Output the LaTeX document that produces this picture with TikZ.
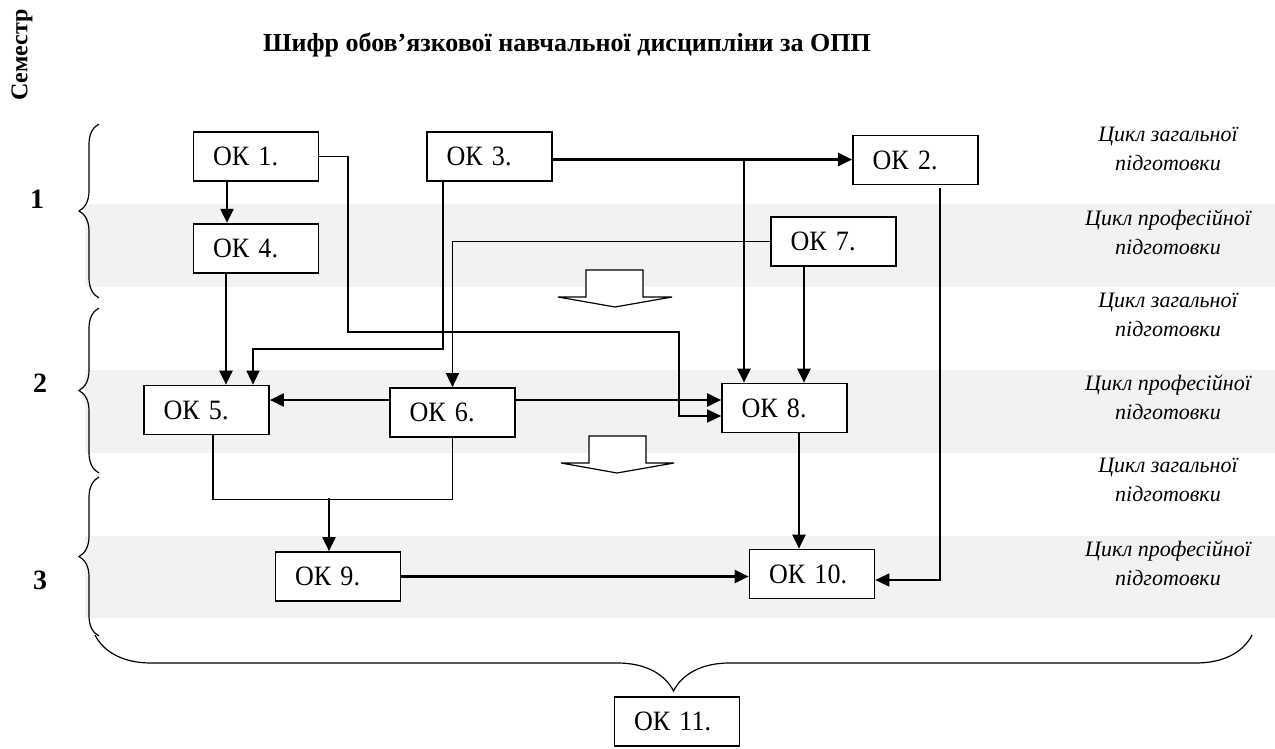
\documentclass[tikz,border=0pt]{standalone}
\usepackage{fontspec}
\setmainfont{Liberation Serif}[ItalicFont={Liberation Serif Italic}, BoldFont={Liberation Serif Bold}]
\newfontfamily\okfont{Liberation Serif}[FakeStretch=0.93]
\usetikzlibrary{arrows.meta,decorations.pathreplacing,positioning}

\definecolor{bandgray}{RGB}{242,242,242}

\begin{document}
\begin{tikzpicture}[
    x=0.5pt, y=-0.5pt,
    ok/.style={rectangle, draw, line width=0.85pt, fill=white, minimum height=24.5pt, text width=43pt, inner xsep=9.75pt, inner ysep=0pt, align=left, font=\okfont\fontsize{14}{16}\selectfont},
    cyclelabel/.style={font=\itshape\fontsize{11}{14.5}\selectfont, align=center},
    sem/.style={font=\bfseries\fontsize{14}{16}\selectfont},
    arrow/.style={-{Triangle[length=7pt,width=6.5pt]}, line width=1.1pt},
    thinarrow/.style={arrow, line width=0.7pt},
    link/.style={line width=0.7pt},
    lbrace/.style={decorate, decoration={brace, amplitude=10pt}, line width=0.6pt},
    blockarrow/.style={draw, fill=white, line width=0.6pt}
]
\useasboundingbox (0,0) rectangle (1275,749);

% Bands
\fill[bandgray] (85,204) rectangle (1275,287);
\fill[bandgray] (85,370) rectangle (1275,453);
\fill[bandgray] (85,536) rectangle (1275,618);

% Headings
\node[font=\bfseries\fontsize{13}{15}\selectfont, anchor=base] (title) at (567,52) {Шифр обов’язкової навчальної дисципліни за ОПП};
\node[font=\bfseries\fontsize{12}{14}\selectfont, rotate=90] (semestr) at (22,55) {Семестр};

% Semesters
\node[sem] (s1) at (37,199) {1};
\node[sem] (s2) at (40,383) {2};
\node[sem] (s3) at (40,580) {3};
\draw[lbrace] (99,298) -- (99,124);
\draw[lbrace] (99,473) -- (99,308);
\draw[lbrace] (99,636) -- (99,477);

% Cycles
\node[cyclelabel] (c1) at (1168,149) {Цикл загальної\\підготовки};
\node[cyclelabel] (c2) at (1168,232) {Цикл професійної\\підготовки};
\node[cyclelabel] (c3) at (1168,315) {Цикл загальної\\підготовки};
\node[cyclelabel] (c4) at (1168,397) {Цикл професійної\\підготовки};
\node[cyclelabel] (c5) at (1168,480) {Цикл загальної\\підготовки};
\node[cyclelabel] (c6) at (1168,563) {Цикл професійної\\підготовки};

% Block arrows
\draw[blockarrow] (586,270) -- (643,270) -- (643,297) -- (672,297) -- (615,307) -- (558,297) -- (586,297) -- cycle;
\draw[blockarrow] (589,436) -- (646,436) -- (646,463) -- (674,463) -- (617,473) -- (561,463) -- (589,463) -- cycle;

% Disciplines
\node[ok] (ok1) at (256,156.5) {ОК 1.};
\node[ok] (ok3) at (489.5,156.5) {ОК 3.};
\node[ok] (ok2) at (915.5,160) {ОК 2.};
\node[ok, below=20.5pt of ok1] (ok4) {ОК 4.};
\node[ok] (ok7) at (833.5,241.5) {ОК 7.};
\node[ok] (ok5) at (206.5,410) {ОК 5.};
\node[ok] (ok6) at (452.5,412.5) {ОК 6.};
\node[ok] (ok8) at (784.5,408) {ОК 8.};
\node[ok] (ok9) at (338,576.5) {ОК 9.};
\node[ok] (ok10) at (812,574) {ОК 10.};
\node[ok] (ok11) at (677,721.5) {ОК 11.};

% Arrows
\draw[arrow] ([xshift=-14.5pt]ok1.south) -- ([xshift=-14.5pt]ok4.north);
\draw[arrow] ([xshift=-15pt]ok4.south) -- ([xshift=-15pt]ok4.south |- ok5.north);
\draw[thinarrow] (ok1.east) -- (348,156.5) -- (348,332) -- (679,332) |- ([yshift=-4pt]ok8.west);
\draw[arrow] ([yshift=-1.5pt]ok3.east) -- ([yshift=-1.5pt]ok3.east -| ok2.west);
\coordinate (j3) at (744,159.5);
\draw[arrow] (j3) -- (j3 |- ok8.north);
\draw[thinarrow] ([xshift=-23.25pt]ok3.south) -- ++(0,167) -| ([xshift=23.25pt]ok5.north);
\draw[thinarrow] (ok7.west) -| (ok6.north);
\draw[arrow] ([xshift=-14.75pt]ok7.south) -- ([xshift=-14.75pt]ok7.south |- ok8.north);
\draw[arrow] ([yshift=6.25pt]ok6.west) -- ([yshift=6.25pt]ok6.west -| ok5.east);
\draw[arrow] ([yshift=6.25pt]ok6.east) -- ([yshift=6.25pt]ok6.east -| ok8.west);
\draw[link] ([xshift=3.25pt]ok5.south) -- ++(0,64) -| (ok6.south);
\coordinate (j56) at (329,498);
\draw[arrow] (j56) -- (j56 |- ok9.north);
\draw[arrow] (ok9.east) -- (ok9.east -| ok10.west);
\draw[arrow] ([xshift=7.25pt]ok8.south) -- ([xshift=7.25pt]ok8.south |- ok10.north);
\draw[thinarrow] ([xshift=12.25pt, yshift=-1.5pt]ok2.south) |- ([yshift=-3pt]ok10.east);

% Total
\draw[decorate, decoration={brace, amplitude=28pt}, line width=0.6pt] (1252,635) -- (95,635);

\end{tikzpicture}
\end{document}
